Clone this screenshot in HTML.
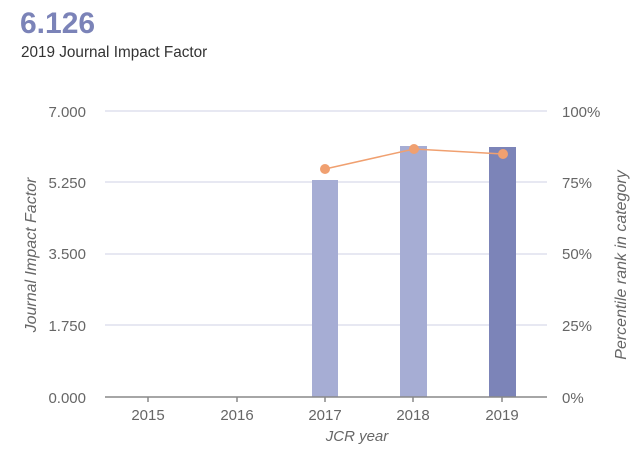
<!DOCTYPE html>
<html><head><style>body{margin:0;background:#fff}svg{display:block}</style></head><body>
<svg width="634" height="463" font-family="Liberation Sans, sans-serif">
<text x="20" y="33" font-size="30" font-weight="bold" fill="#7b83b8">6.126</text>
<text x="21" y="57" font-size="15.3" fill="#333">2019 Journal Impact Factor</text>
<g stroke="#dfe1ee" stroke-width="1.5">
<line x1="105" x2="547" y1="111" y2="111"/><line x1="105" x2="547" y1="182" y2="182"/>
<line x1="105" x2="547" y1="254" y2="254"/><line x1="105" x2="547" y1="325" y2="325"/>
</g>
<rect x="312" y="180" width="26" height="217" fill="#a6add4"/>
<rect x="400" y="146" width="27" height="251" fill="#a6add4"/>
<rect x="489" y="147" width="27" height="250" fill="#7c84b8"/>
<line x1="105" x2="547" y1="397" y2="397" stroke="#888" stroke-width="1.5"/>
<g stroke="#888" stroke-width="1.5"><line x1="148" x2="148" y1="397" y2="402"/><line x1="237" x2="237" y1="397" y2="402"/><line x1="325" x2="325" y1="397" y2="402"/><line x1="413" x2="413" y1="397" y2="402"/><line x1="502" x2="502" y1="397" y2="402"/></g>
<polyline points="325,169 414,149 503,154" fill="none" stroke="#f0a070" stroke-width="1.5"/>
<g fill="#f0a070"><circle cx="325" cy="169" r="5"/><circle cx="414" cy="149" r="5"/><circle cx="503" cy="154" r="5"/></g>
<g font-size="15" fill="#666" text-anchor="end">
<text x="86" y="117">7.000</text><text x="86" y="188">5.250</text><text x="86" y="259">3.500</text><text x="86" y="331">1.750</text><text x="86" y="403">0.000</text></g>
<g font-size="15" fill="#666">
<text x="562" y="117">100%</text><text x="562" y="188">75%</text><text x="562" y="259">50%</text><text x="562" y="331">25%</text><text x="562" y="403">0%</text></g>
<g font-size="15" fill="#666" text-anchor="middle">
<text x="148" y="420">2015</text><text x="237" y="420">2016</text><text x="325" y="420">2017</text><text x="413" y="420">2018</text><text x="502" y="420">2019</text></g>
<text x="357" y="441" font-size="15" font-style="italic" fill="#666" text-anchor="middle">JCR year</text>
<text transform="translate(36,255) rotate(-90)" font-size="16" font-style="italic" fill="#666" text-anchor="middle">Journal Impact Factor</text>
<text transform="translate(626,265) rotate(-90)" font-size="16" font-style="italic" fill="#666" text-anchor="middle">Percentile rank in category</text>
</svg></body></html>
